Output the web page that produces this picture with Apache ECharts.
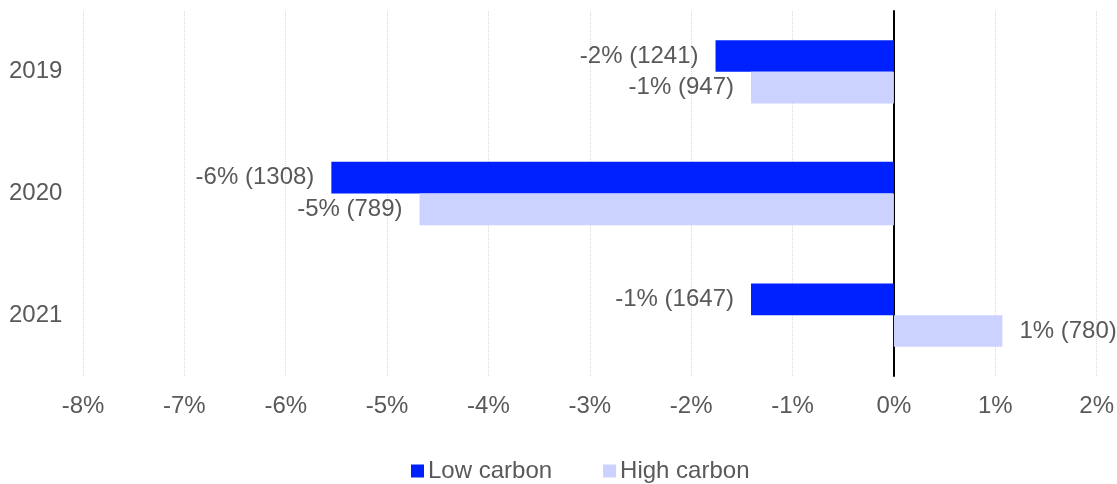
<!DOCTYPE html>
<html>
<head>
<meta charset="utf-8">
<script src="https://cdn.jsdelivr.net/npm/echarts@6/dist/echarts.min.js"></script>
<style>html,body{margin:0;padding:0;background:#fff}#c{width:1117px;height:484px}</style>
</head>
<body>
<div id="c"></div>
<script>
const categories = ['2019', '2020', '2021'];
const lowCarbon = [-1.76, -5.55, -1.41];
const highCarbon = [-1.41, -4.68, 1.07];
const lowCounts = [1241, 1308, 1647];
const highCounts = [947, 789, 780];
const xTicks = [-8, -7, -6, -5, -4, -3, -2, -1, 0, 1, 2];

const FONT = 'Liberation Sans, Arial, sans-serif';
const TXT = '#595959';
const FS = 24;

function mk(values, counts) {
  return values.map((v, i) => ({
    value: v,
    label: { position: v < 0 ? 'left' : 'right' },
    count: counts[i]
  }));
}
const fmt = p => Math.round(p.value) + '% (' + p.data.count + ')';

const chart = echarts.init(document.getElementById('c'));
chart.setOption({
  animation: false,
  textStyle: { fontFamily: FONT },
  grid: { left: 83, right: 20, top: 11, bottom: 108, containLabel: false },
  legend: {
    top: 459, left: 411, padding: 0,
    itemWidth: 13, itemHeight: 13, itemGap: 51,
    icon: 'rect',
    textStyle: { fontSize: FS, color: TXT, fontFamily: FONT, padding: [0, 0, 0, -1] },
    data: ['Low carbon', 'High carbon']
  },
  xAxis: {
    type: 'value', min: xTicks[0], max: xTicks[xTicks.length - 1], interval: 1,
    axisLine: { show: false }, axisTick: { show: false },
    axisLabel: { fontSize: FS, color: TXT, margin: 18, formatter: v => v + '%' },
    splitLine: { show: true, lineStyle: { type: 'dotted', color: '#d9d9d9', width: 1 } }
  },
  yAxis: {
    type: 'category', data: categories, inverse: true,
    axisLine: { show: true, onZero: true, lineStyle: { color: '#000', width: 2 } },
    axisTick: { show: false },
    axisLabel: { fontSize: FS, color: TXT, align: 'left', margin: 74 },
    splitLine: { show: false }
  },
  series: [
    {
      name: 'Low carbon', type: 'bar', data: mk(lowCarbon, lowCounts),
      itemStyle: { color: '#0021ff' },
      barGap: '0%', barCategoryGap: '48%',
      label: { show: true, fontSize: FS, color: TXT, distance: 17, formatter: fmt },
      z: 1
    },
    {
      name: 'High carbon', type: 'bar', data: mk(highCarbon, highCounts),
      itemStyle: { color: '#ccd2ff' },
      barGap: '0%', barCategoryGap: '48%',
      label: { show: true, fontSize: FS, color: TXT, distance: 17, formatter: fmt },
      z: 1
    }
  ]
});
</script>
</body>
</html>
